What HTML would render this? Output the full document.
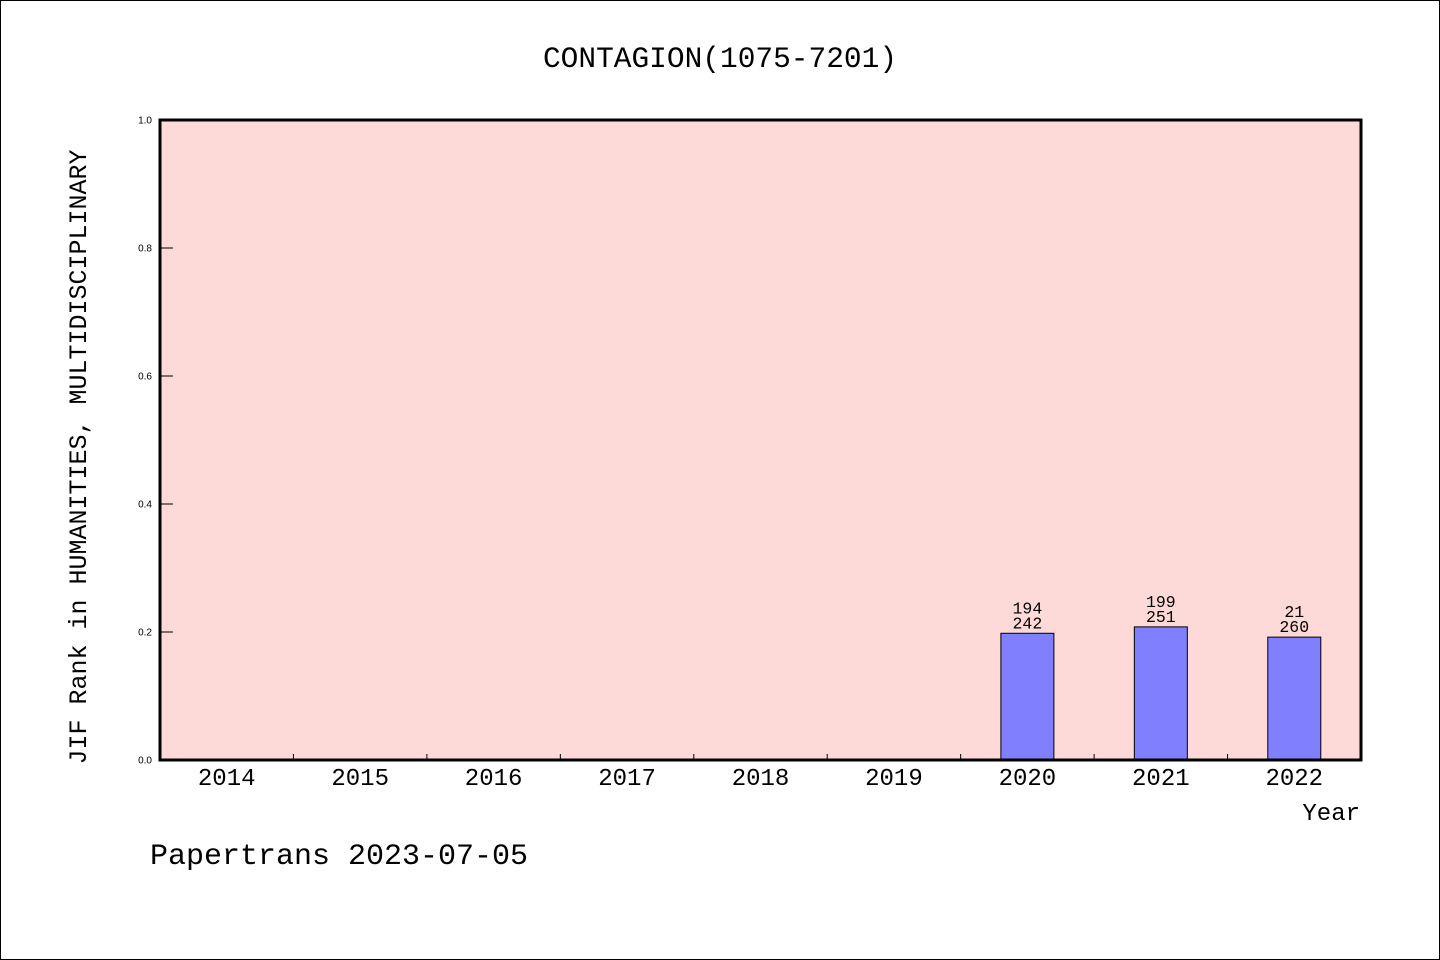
<!DOCTYPE html>
<html><head><meta charset="utf-8"><style>body{margin:0;background:#fff}svg{display:block}</style></head>
<body>
<svg width="1440" height="960" xmlns="http://www.w3.org/2000/svg" font-family="'Liberation Mono', monospace">
<rect x="0.5" y="0.5" width="1439" height="959" fill="#fff" stroke="#000"/>
<text x="720" y="67" text-anchor="middle" font-size="29.5">CONTAGION(1075-7201)</text>
<rect x="160" y="120" width="1201" height="640" fill="#fddad7"/>
<g id="marks"></g>
<rect x="160" y="120" width="1201" height="640" fill="none" stroke="#000" stroke-width="3"/>
<text transform="translate(86,457) rotate(-90)" text-anchor="middle" font-size="25">JIF Rank in HUMANITIES, MULTIDISCIPLINARY</text>
<text x="1360" y="820" text-anchor="end" font-size="24">Year</text>
<text x="150" y="864" font-size="30">Papertrans 2023-07-05</text>
</svg>
<script>
const years = ["2014","2015","2016","2017","2018","2019","2020","2021","2022"];
const values = [null,null,null,null,null,null,0.198,0.208,0.192];
const topLabels = ["","","","","","","194","199","21"];
const bottomLabels = ["","","","","","","242","251","260"];
const yTicks = [0,0.2,0.4,0.6,0.8,1.0];
const yTickLabels = ["0.0","0.2","0.4","0.6","0.8","1.0"];
const NS="http://www.w3.org/2000/svg";
const X0=160,W=1201,Y0=760,H=640;
const band=W/years.length;
const xs=i=>X0+band*(i+0.5);
const ys=v=>Y0-v*H;
const g=document.getElementById('marks');
function mk(t,a){const e=document.createElementNS(NS,t);for(const k in a)e.setAttribute(k,a[k]);g.appendChild(e);return e;}
yTicks.forEach((v,i)=>{
  const l=mk('line',{x1:X0,x2:X0+13,y1:ys(v),y2:ys(v),stroke:'#000','stroke-width':1});
  
  
  const t=mk('text',{x:X0-8,y:ys(v)+3.5,'text-anchor':'end','font-size':10,'font-family':"'Liberation Sans', sans-serif"});
  t.textContent=yTickLabels[i];
  
  
});
years.forEach((y,i)=>{
  if(i>0){const l=mk('line',{x1:X0+band*i,x2:X0+band*i,y1:Y0,y2:Y0-6,stroke:'#000','stroke-width':1});
  
  }
  const t=mk('text',{x:xs(i),y:785,'text-anchor':'middle','font-size':24});
  t.textContent=y;
  
  
  const v=values[i];
  if(v!=null){
    const r=mk('rect',{x:xs(i)-26.5,y:ys(v),width:53,height:v*H,fill:'#8080ff',stroke:'#000','stroke-width':1});
    
    
    const t1=mk('text',{x:xs(i),y:ys(v)-20,'text-anchor':'middle','font-size':16.5});
    t1.textContent=topLabels[i];
    
    
    const t2=mk('text',{x:xs(i),y:ys(v)-5,'text-anchor':'middle','font-size':16.5});
    t2.textContent=bottomLabels[i];
    
    
  }
});
</script>
</body></html>
